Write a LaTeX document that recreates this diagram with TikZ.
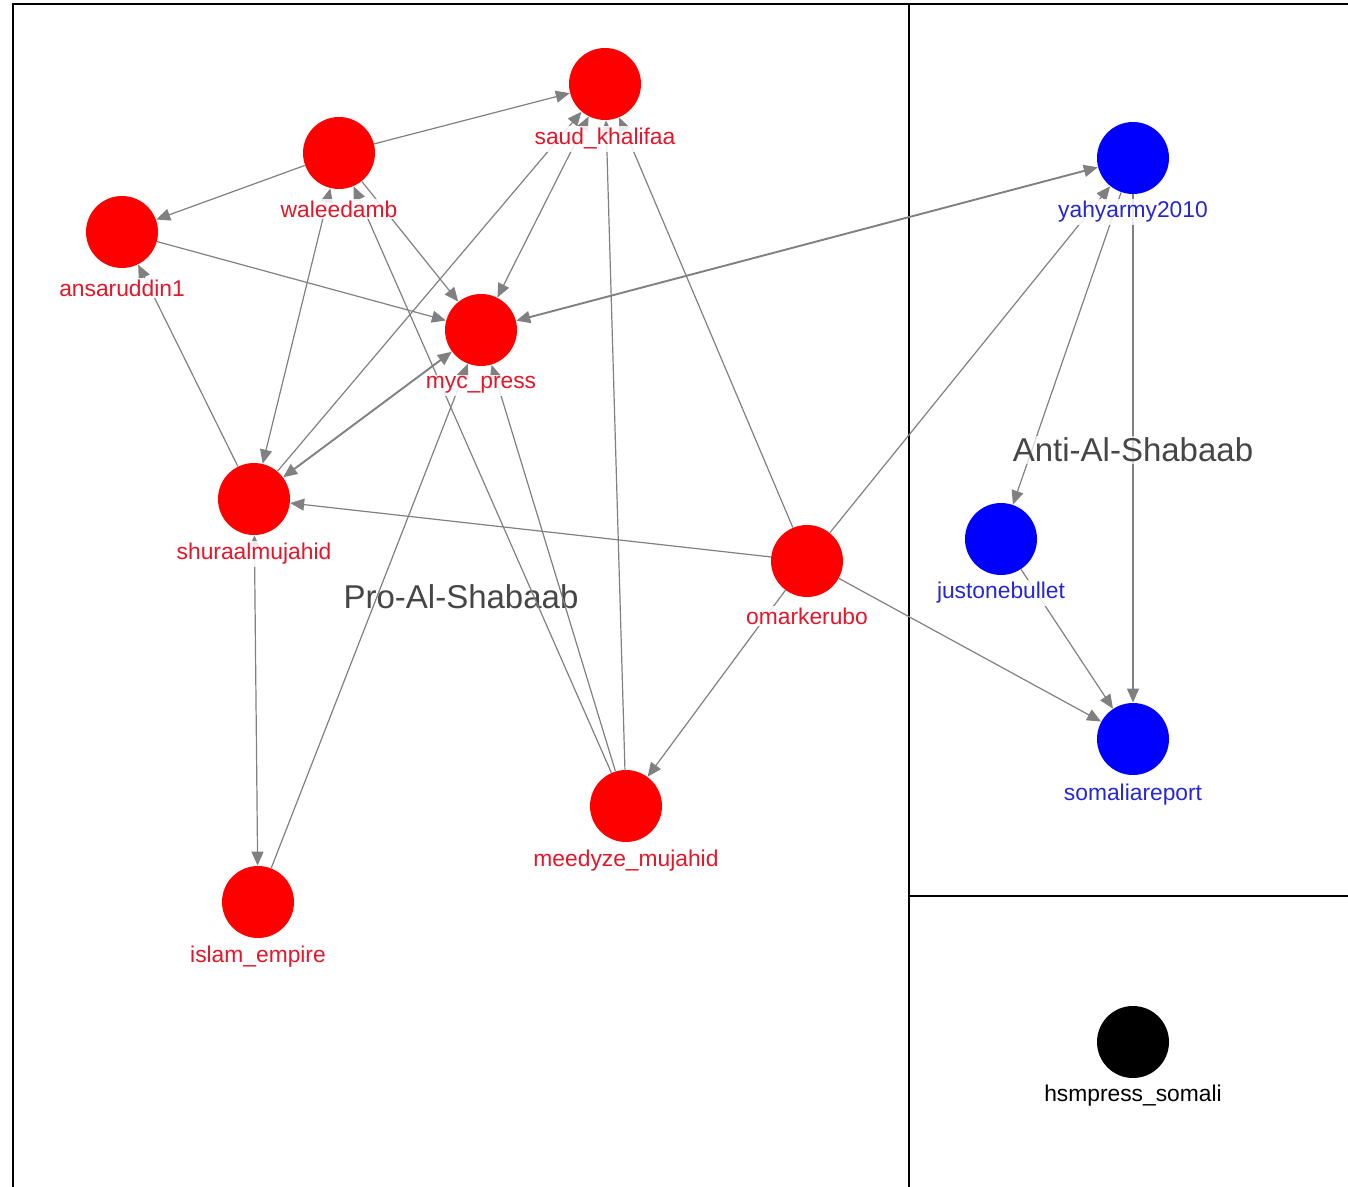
\documentclass[tikz,border=0pt]{standalone}
\usepackage{fontspec}
\setmainfont{Liberation Sans}
\usetikzlibrary{arrows.meta}
\definecolor{nred}{RGB}{255,0,0}
\definecolor{nblue}{RGB}{0,0,255}
\definecolor{tred}{RGB}{228,22,42}
\definecolor{tblue}{RGB}{38,38,215}
\definecolor{edgegray}{RGB}{128,128,128}
\definecolor{grouptext}{RGB}{70,70,70}
\begin{document}
\begin{tikzpicture}[x=0.5pt,y=-0.5pt,
  vert/.style={circle,minimum size=36pt,inner sep=0pt,draw=none},
  redv/.style={vert,fill=nred},
  bluev/.style={vert,fill=nblue},
  blackv/.style={vert,fill=black},
  lab/.style={font=\fontsize{11.4}{13}\selectfont,inner sep=1pt,fill=white,fill opacity=0.85,text opacity=1},
  redlab/.style={lab,text=tred},
  bluelab/.style={lab,text=tblue},
  blacklab/.style={lab,text=black},
  grp/.style={font=\fontsize{16.5}{19}\selectfont,text=grouptext,inner sep=1pt,fill=white,fill opacity=0.7,text opacity=1},
  edge/.style={draw=edgegray,line width=0.6pt,-{Triangle[length=7pt,width=6pt]}},
  bedge/.style={draw=edgegray,line width=0.6pt,{Triangle[length=7pt,width=6pt]}-{Triangle[length=7pt,width=6pt]}},
  tedge/.style={draw=edgegray,line width=0.95pt,{Triangle[length=7pt,width=6pt]}-{Triangle[length=7pt,width=6pt]}},
  frame/.style={draw=black,line width=1pt}]
\useasboundingbox (0,0) rectangle (1348,1187);
% frame
\coordinate (tl) at (13,4);
\coordinate (tr) at (1348,4);
\coordinate (bl) at (13,1187);
\coordinate (dt) at (909,4);
\coordinate (db) at (909,1187);
\coordinate (hl) at (909,896);
\coordinate (hr) at (1348,896);
\draw[frame] (tr) -- (tl) -- (bl);
\draw[frame] (dt) -- (db);
\draw[frame] (hl) -- (hr);
% group labels
\node[grp] (pro) at (461,597) {Pro-Al-Shabaab};
% vertices
\node[redv] (saud) at (605,84) {};
\node[redv] (wal) at (339,153) {};
\node[redv] (ans) at (122,232) {};
\node[redv] (myc) at (481,330) {};
\node[redv] (shura) at (254,499) {};
\node[redv] (omar) at (807,561) {};
\node[redv] (meed) at (626,806) {};
\node[redv] (islam) at (258,902) {};
\node[bluev] (yahy) at (1133,158) {};
\node[bluev] (just) at (1001,539) {};
\node[bluev] (soma) at (1133,739) {};
\node[blackv] (hsm) at (1133,1042) {};
% edges
\draw[edge] (wal) -- (saud);
\draw[edge] (wal) -- (ans);
\draw[edge] (ans) -- (myc);
\draw[edge] (wal) -- (myc);
\draw[bedge] (saud) -- (myc);
\draw[edge] (shura) -- (saud);
\draw[tedge] (myc) -- (shura);
\draw[bedge] (wal) -- (shura);
\draw[edge] (shura) -- (ans);
\draw[edge] (omar) -- (shura);
\draw[bedge] (shura) -- (islam);
\draw[edge] (islam) -- (myc);
\draw[edge] (meed) -- (myc);
\draw[edge] (meed) -- (wal);
\draw[edge] (meed) -- (saud);
\draw[edge] (omar) -- (saud);
\draw[edge] (omar) -- (meed);
\draw[edge] (omar) -- (yahy);
\draw[tedge] (yahy) -- (myc);
\draw[edge] (yahy) -- (just);
\draw[edge] (yahy) -- (soma);
\draw[edge] (just) -- (soma);
\draw[edge] (omar) -- (soma);
% group label over edges
\node[grp] (anti) at (1133,450) {Anti-Al-Shabaab};
% vertex labels
\node[redlab] (saud-l) at (605,139) {saud\_khalifaa};
\node[redlab] (wal-l) at (339,209) {waleedamb};
\node[redlab] (ans-l) at (122,288) {ansaruddin1};
\node[redlab] (myc-l) at (481,385) {myc\_press};
\node[redlab] (shura-l) at (254,554) {shuraalmujahid};
\node[redlab] (omar-l) at (807,616) {omarkerubo};
\node[redlab] (meed-l) at (626,861) {meedyze\_mujahid};
\node[redlab] (islam-l) at (258,957) {islam\_empire};
\node[bluelab] (yahy-l) at (1133,212) {yahyarmy2010};
\node[bluelab] (just-l) at (1001,593) {justonebullet};
\node[bluelab] (soma-l) at (1133,795) {somaliareport};
\node[blacklab] (hsm-l) at (1133,1096) {hsmpress\_somali};
\end{tikzpicture}
\end{document}
